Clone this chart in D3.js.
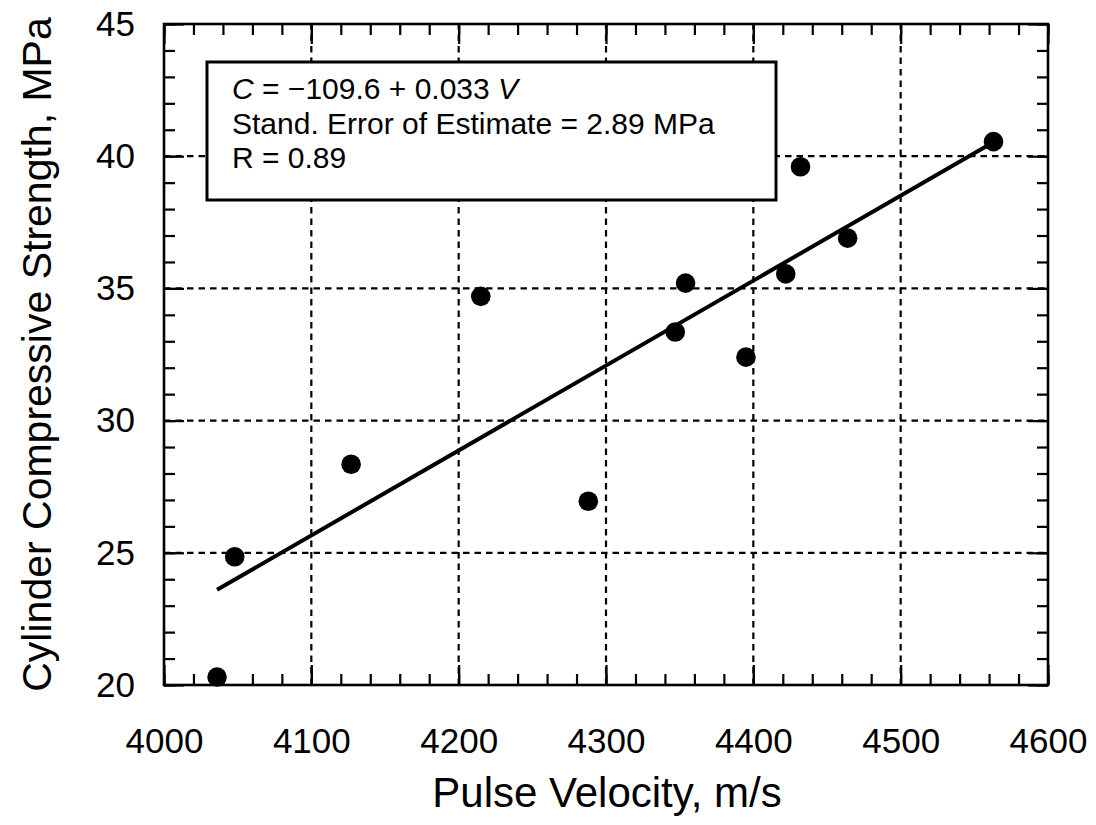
<!DOCTYPE html>
<html>
<head>
<meta charset="utf-8">
<script src="https://cdn.jsdelivr.net/npm/d3@7"></script>
<style>
  html, body { margin: 0; padding: 0; background: #fff; }
  svg { display: block; }
  text { font-family: "Liberation Sans", Arial, Helvetica, sans-serif; fill: #000; }
</style>
</head>
<body>
<svg id="chart" width="1096" height="825"></svg>
<script>
// ---- data ----
const velocity = [4036, 4048, 4127, 4215, 4288, 4347, 4354, 4395, 4422, 4432, 4464, 4563];
const strength = [20.3, 24.85, 28.35, 34.7, 26.95, 33.35, 35.2, 32.4, 35.55, 39.6, 36.9, 40.55];
const fitV = [4036, 4562];
const fitC = [23.6, 40.5];
const xMajor = [4000, 4100, 4200, 4300, 4400, 4500, 4600];
const yMajor = [20, 25, 30, 35, 40, 45];
const xGrid = [4100, 4200, 4300, 4400, 4500];
const yGrid = [25, 30, 35, 40];
const xTitle = "Pulse Velocity, m/s";
const yTitle = "Cylinder Compressive Strength, MPa";
const boxLines = ["Stand. Error of Estimate = 2.89 MPa", "R = 0.89"];

// ---- layout ----
const L = 164, R = 1048, T = 24, B = 685;
const svg = d3.select("#chart");
const x = d3.scaleLinear().domain([4000, 4600]).range([L, R]);
const y = d3.scaleLinear().domain([20, 45]).range([B, T]);

const xMinor = d3.range(4000, 4601, 20);
const yMinor = d3.range(20, 45.01, 1);

// gridlines
const grid = svg.append("g").attr("stroke", "#000").attr("stroke-width", 2.2).attr("stroke-dasharray", "6.5,5");
grid.selectAll("line.v").data(xGrid).join("line").attr("class", "v")
  .attr("x1", d => x(d)).attr("x2", d => x(d)).attr("y1", y(20)).attr("y2", y(45));
grid.selectAll("line.h").data(yGrid).join("line").attr("class", "h")
  .attr("x1", x(4000)).attr("x2", x(4600)).attr("y1", d => y(d)).attr("y2", d => y(d));

function styleAxis(g) {
  g.select(".domain").remove();
  g.selectAll(".tick line").attr("stroke", "#000").attr("stroke-width", 2.2);
}

// minor ticks (inward) on all four sides
svg.append("g").attr("transform", `translate(0,${B})`)
  .call(d3.axisBottom(x).tickValues(xMinor).tickSize(-11).tickFormat("")).call(styleAxis);
svg.append("g").attr("transform", `translate(0,${T})`)
  .call(d3.axisTop(x).tickValues(xMinor).tickSize(-11).tickFormat("")).call(styleAxis);
svg.append("g").attr("transform", `translate(${L},0)`)
  .call(d3.axisLeft(y).tickValues(yMinor).tickSize(-11).tickFormat("")).call(styleAxis);
svg.append("g").attr("transform", `translate(${R},0)`)
  .call(d3.axisRight(y).tickValues(yMinor).tickSize(-11).tickFormat("")).call(styleAxis);

// major ticks with labels
const xAx = svg.append("g").attr("transform", `translate(0,${B})`)
  .call(d3.axisBottom(x).tickValues(xMajor).tickSize(-20).tickPadding(43).tickFormat(d3.format("d")))
  .call(styleAxis);
xAx.selectAll("text").style("font-size", "35px").style("font-family", "Liberation Sans, Arial, sans-serif");
const yAx = svg.append("g").attr("transform", `translate(${L},0)`)
  .call(d3.axisLeft(y).tickValues(yMajor).tickSize(-20).tickPadding(29).tickFormat(d3.format("d")))
  .call(styleAxis);
yAx.selectAll("text").style("font-size", "35px").style("font-family", "Liberation Sans, Arial, sans-serif");
svg.append("g").attr("transform", `translate(0,${T})`)
  .call(d3.axisTop(x).tickValues(xMajor).tickSize(-20).tickFormat("")).call(styleAxis);
svg.append("g").attr("transform", `translate(${R},0)`)
  .call(d3.axisRight(y).tickValues(yMajor).tickSize(-20).tickFormat("")).call(styleAxis);

// frame
svg.append("rect").attr("x", L).attr("y", T).attr("width", R - L).attr("height", B - T)
  .attr("fill", "none").attr("stroke", "#000").attr("stroke-width", 2.6);

// regression line
const fit = fitV.map((v, i) => [v, fitC[i]]);
svg.append("path").datum(fit)
  .attr("d", d3.line().x(d => x(d[0])).y(d => y(d[1])))
  .attr("fill", "none").attr("stroke", "#000").attr("stroke-width", 4);

// points
svg.append("g").selectAll("circle").data(velocity.map((v, i) => [v, strength[i]])).join("circle")
  .attr("cx", d => x(d[0])).attr("cy", d => y(d[1])).attr("r", 9.8).attr("fill", "#000");

// annotation box
svg.append("rect").attr("x", 207).attr("y", 62).attr("width", 569).attr("height", 138)
  .attr("fill", "#fff").attr("stroke", "#000").attr("stroke-width", 3);
const eq = svg.append("text").attr("x", 232).attr("y", 99).style("font-size", "30px");
eq.append("tspan").style("font-style", "italic").text("C");
eq.append("tspan").text(" = \u2212109.6 + 0.033 ");
eq.append("tspan").style("font-style", "italic").text("V");
svg.selectAll("text.box").data(boxLines).join("text").attr("class", "box")
  .attr("x", 232).attr("y", (d, i) => 134 + i * 34).style("font-size", "30px").text(d => d);

// axis titles
svg.append("text").attr("x", 607).attr("y", 807).attr("text-anchor", "middle")
  .style("font-size", "42px").text(xTitle);
svg.append("text").attr("transform", `translate(51,${(T + B) / 2}) rotate(-90)`)
  .attr("text-anchor", "middle").style("font-size", "41px").text(yTitle);
</script>
</body>
</html>
